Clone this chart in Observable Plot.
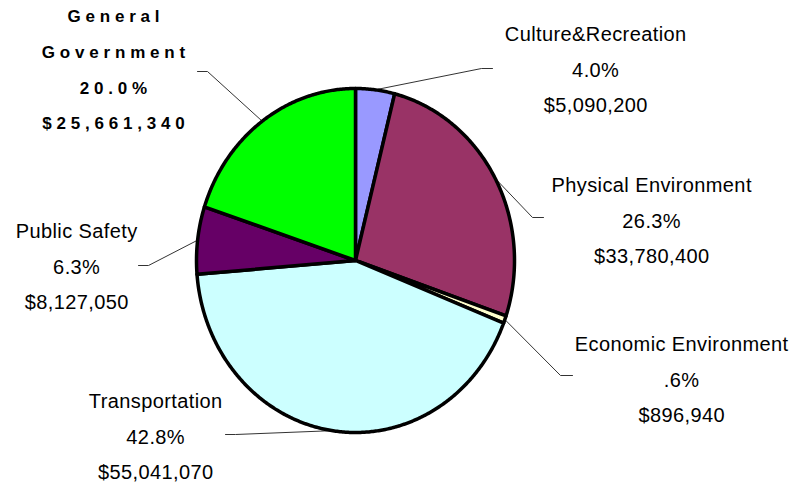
<!DOCTYPE html>
<html><head><meta charset="utf-8">
<script src="https://cdn.jsdelivr.net/npm/d3@7"></script>
<script src="https://cdn.jsdelivr.net/npm/@observablehq/plot@0.6"></script>
<style>body{margin:0;background:#fff;}</style>
</head><body><div id="chart"></div>
<script>
// ---- data ----
const categories = ["Culture&Recreation","Physical Environment","Economic Environment","Transportation","Public Safety","General Government"];
const amounts = [5090200, 33780400, 896940, 55041070, 8127050, 25661340];
const percentLabels = ["4.0%","26.3%",".6%","42.8%","6.3%","20.0%"];
const amountLabels = ["$5,090,200","$33,780,400","$896,940","$55,041,070","$8,127,050","$25,661,340"];
const nameLines = ["Culture&Recreation","Physical Environment","Economic Environment","Transportation","Public Safety","General\nGovernment"];
const colors = ["#9999FF","#993366","#FFFFCC","#CCFFFF","#660066","#00FF00"];

// ---- layout (pixels) ----
const CX = 355, CY = 260, RX = 159, RY = 172;
const ux = px => (px - CX) / RX, uy = py => (CY - py) / RY;
const labelPx = [[595,65],[651,216],[681,375],[155,432],[76,262],[113,64]];
const elbowPx = [[481,68],[532,217],[560,375],[235,434],[148,265],[207,71]];
const endPx   = [[492,68],[543,217],[572,375],[225,434],[138,265],[197,71]];

// ---- pie geometry from data ----
const total = d3.sum(amounts);
let cum = 0;
const slices = categories.map((c, i) => {
  const a0 = cum / total * 2 * Math.PI; cum += amounts[i];
  const a1 = cum / total * 2 * Math.PI;
  return {c, a0, a1, mid: (a0 + a1) / 2};
});
const piePts = [];
for (const s of slices) {
  const n = Math.max(2, Math.ceil((s.a1 - s.a0) / (Math.PI / 360)));
  for (let k = 0; k <= n; k++) {
    const a = s.a0 + (s.a1 - s.a0) * k / n;
    piePts.push({c: s.c, x: Math.sin(a), y: Math.cos(a)});
  }
  piePts.push({c: s.c, x: 0, y: 0});
  piePts.push({c: s.c, x: Math.sin(s.a0), y: Math.cos(s.a0)});
}
const leaderPts = [];
slices.forEach((s, i) => {
  leaderPts.push({c: s.c, x: Math.sin(s.mid), y: Math.cos(s.mid)});
  leaderPts.push({c: s.c, x: ux(elbowPx[i][0]), y: uy(elbowPx[i][1])});
  leaderPts.push({c: s.c, x: ux(endPx[i][0]), y: uy(endPx[i][1])});
});
const labels = categories.map((c, i) => ({
  c, text: nameLines[i] + "\n" + percentLabels[i] + "\n" + amountLabels[i],
  x: ux(labelPx[i][0]), y: uy(labelPx[i][1]), bold: i === 5
}));

const font = "'Liberation Sans', Arial, sans-serif";
const chart = Plot.plot({
  width: 792, height: 486, margin: 0,
  style: {background: "#fff", fontFamily: font},
  x: {domain: [-1, 1], range: [CX - RX, CX + RX], axis: null},
  y: {domain: [-1, 1], range: [CY + RY, CY - RY], axis: null},
  color: {domain: categories, range: colors},
  marks: [
    Plot.line(leaderPts, {x: "x", y: "y", z: "c", stroke: "#333", strokeWidth: 1}),
    Plot.line(piePts, {x: "x", y: "y", z: "c", fill: "c", stroke: "black", strokeWidth: 3.5, strokeLinejoin: "round", strokeLinecap: "round"}),
    Plot.text(labels.filter(d => !d.bold), {x: "x", y: "y", text: "text", fontSize: 20, lineHeight: 1.77, lineAnchor: "middle", fill: "black", dx: 0.2}),
    Plot.text(labels.filter(d => d.bold), {x: "x", y: "y", text: "text", fontSize: 17, fontWeight: "bold", lineHeight: 2.1, lineAnchor: "middle", fill: "black", dx: 2.4})
  ]
});
d3.select(chart).selectAll('g[font-size="20"]').attr("letter-spacing", "0.4px");
d3.select(chart).selectAll('g[font-weight="bold"]').attr("letter-spacing", "4.8px");
document.getElementById("chart").appendChild(chart);
</script>
</body></html>
